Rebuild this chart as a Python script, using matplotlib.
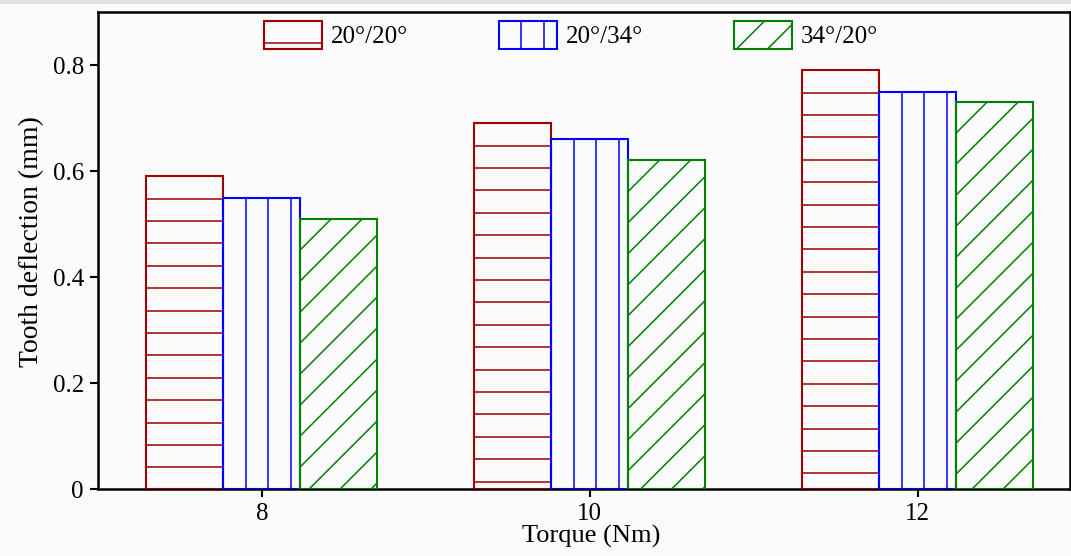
import matplotlib
matplotlib.use("Agg")
import matplotlib.pyplot as plt
import numpy as np
from matplotlib.collections import LineCollection
from matplotlib.legend_handler import HandlerBase
from matplotlib.patches import Rectangle
from matplotlib.ticker import FuncFormatter

# ---- data ----
torque = [8, 10, 12]
torque_labels = ["8", "10", "12"]
defl_20_20 = [0.59, 0.69, 0.79]
defl_20_34 = [0.55, 0.66, 0.75]
defl_34_20 = [0.51, 0.62, 0.73]
series_names = ["20°/20°", "20°/34°", "34°/20°"]

# ---- style ----
DPI = 100
W, H = 1071, 556
BG = "#FBFBFB"
colors = ["#A00000", "#0000FF", "#008000"]
hatch_kinds = ["h", "v", "d"]          # horizontal, vertical, diagonal
hatch_step = {"h": 22.4, "v": 22.5, "d": 31.0}   # spacing in pixels
bar_width = 0.47
edge_lw = 1.5
hatch_lw = 1.1

plt.rcParams["font.family"] = ["Liberation Serif", "DejaVu Serif"]
plt.rcParams["font.size"] = 18


def hatch_segments(kind, x0, x1, y0, y1, step):
    """Hatch lines inside the box [x0,x1]x[y0,y1] (y upward), anchored at the top-left corner."""
    segs = []
    if kind == "h":
        y = y1 - step
        while y > y0 + 0.5:
            segs.append([(x0, y), (x1, y)])
            y -= step
    elif kind == "v":
        x = x0 + step
        while x < x1 - 0.5:
            segs.append([(x, y0), (x, y1)])
            x += step
    else:
        # lines x - y = c, passing through (x0 + k*step, y1)
        c = x0 - y1 + step
        cmax = x1 - y0
        while c < cmax:
            xa = max(x0, y0 + c)
            xb = min(x1, y1 + c)
            if xb > xa:
                segs.append([(xa, xa - c), (xb, xb - c)])
            c += step
    return segs


class HatchBoxHandler(HandlerBase):
    def __init__(self, color, kind):
        super().__init__()
        self.color = color
        self.kind = kind

    def create_artists(self, legend, orig_handle, xdescent, ydescent,
                       width, height, fontsize, trans):
        x0, y0 = -xdescent, -ydescent
        x1, y1 = x0 + width, y0 + height
        step = hatch_step[self.kind] * 72.0 / DPI
        segs = hatch_segments(self.kind, x0, x1, y0, y1, step)
        lc = LineCollection(segs, colors=self.color, linewidths=hatch_lw,
                            transform=trans)
        rect = Rectangle((x0, y0), width, height, facecolor="none",
                         edgecolor=self.color, linewidth=edge_lw,
                         transform=trans)
        return [lc, rect]


fig = plt.figure(figsize=(W / DPI, H / DPI), dpi=DPI, facecolor=BG)
fig.patches.append(Rectangle((0, 1 - 4 / H), 1, 4 / H, transform=fig.transFigure,
                             facecolor="#E2E2E2", edgecolor="none"))

ax = fig.add_axes([98 / W, 67 / H, 972 / W, 477 / H])
ax.set_facecolor(BG)
ax.set_xlim(7, 12.93)
ax.set_ylim(0, 0.9)

series = [defl_20_20, defl_20_34, defl_34_20]
x = np.array(torque, dtype=float)
for i, (vals, color, kind) in enumerate(zip(series, colors, hatch_kinds)):
    bars = ax.bar(x + (i - 1) * bar_width, vals, bar_width, facecolor="none",
                  edgecolor=color, linewidth=edge_lw, zorder=3)
    inv = ax.transData.inverted()
    all_segs = []
    for rect in bars:
        bx, bw, bh = rect.get_x(), rect.get_width(), rect.get_height()
        (px0, py0), (px1, py1) = ax.transData.transform([(bx, 0), (bx + bw, bh)])
        for seg in hatch_segments(kind, px0, px1, py0, py1, hatch_step[kind]):
            all_segs.append(inv.transform(seg))
    ax.add_collection(LineCollection(all_segs, colors=color,
                                     linewidths=hatch_lw, zorder=2.5))

# ---- axes styling ----
for sp in ax.spines.values():
    sp.set_linewidth(1.8)
ax.set_xticks(torque)
ax.set_xticklabels(torque_labels)
ax.set_yticks([0, 0.2, 0.4, 0.6, 0.8])
ax.yaxis.set_major_formatter(FuncFormatter(lambda v, p: "0" if v == 0 else f"{v:.1f}"))
ax.tick_params(axis="both", direction="out", length=5.8, width=1.5,
               labelsize=18, top=False, right=False)
ax.tick_params(axis="x", pad=4)
ax.tick_params(axis="y", pad=4.3)

ax.set_ylabel("Tooth deflection (mm)", fontsize=20)
ax.yaxis.set_label_coords(-0.055, 0.518)
ax.set_xlabel("Torque (Nm)", fontsize=19)
ax.xaxis.set_label_coords(0.507, -0.076)

# ---- legend ----
proxies = [Rectangle((0, 0), 1, 1) for _ in series_names]
handler_map = {p: HatchBoxHandler(c, k) for p, c, k in zip(proxies, colors, hatch_kinds)}
ax.legend(proxies, series_names, handler_map=handler_map, ncol=3,
          loc="upper left", bbox_to_anchor=(264 / W, 1 - 21 / H),
          bbox_transform=fig.transFigure, frameon=False, borderpad=0,
          borderaxespad=0, handlelength=2.32, handleheight=1.346,
          handletextpad=0.36, columnspacing=3.62, fontsize=18)

fig.savefig("out.png", dpi=DPI, facecolor=BG)
